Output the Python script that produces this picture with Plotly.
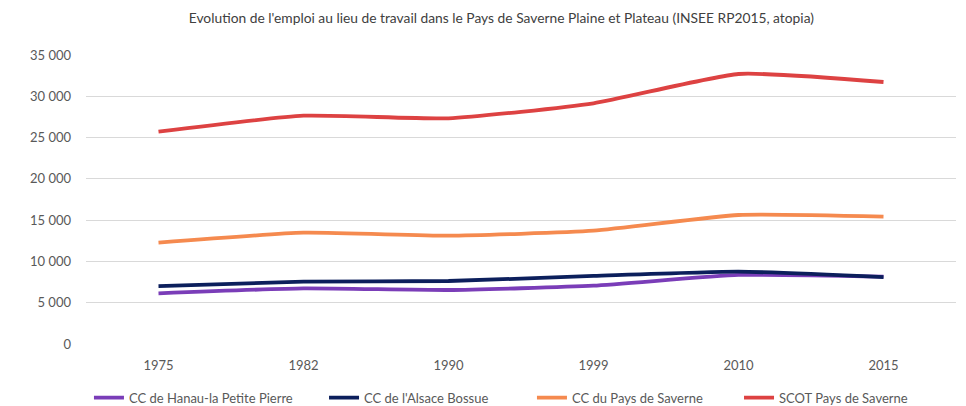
import plotly.graph_objects as go

years = ["1975", "1982", "1990", "1999", "2010", "2015"]
hanau = [6140, 6740, 6540, 7060, 8360, 8150]
alsace_bossue = [7020, 7550, 7630, 8240, 8760, 8110]
pays_saverne = [12270, 13480, 13120, 13720, 15620, 15420]
scot = [25710, 27650, 27330, 29150, 32700, 31730]

names = ["CC de Hanau-la Petite Pierre", "CC de l'Alsace Bossue",
         "CC du Pays de Saverne", "SCOT Pays de Saverne"]
colors = ["#7A3DB8", "#0C1F5C", "#F58A4F", "#DD4242"]
series = [hanau, alsace_bossue, pays_saverne, scot]
legend_ids = ["legend", "legend2", "legend3", "legend4"]
legend_x = [0.0034, 0.2736, 0.5126, 0.7506]

FONT = "Lato, Open Sans, sans-serif"

fig = go.Figure()
for n, c, s, lid in zip(names, colors, series, legend_ids):
    fig.add_trace(go.Scatter(x=years, y=s, name=n, mode="lines", legend=lid,
                             line=dict(color=c, width=3.8, shape="spline", smoothing=0.5)))

legend_style = dict(orientation="h", xanchor="left", y=-0.134, yanchor="top",
                    font=dict(family=FONT, size=13, color="#595959"), itemwidth=30,
                    bgcolor="rgba(0,0,0,0)")

layout_legends = {}
for lid, lx in zip(legend_ids, legend_x):
    layout_legends[lid] = dict(legend_style, x=lx)

fig.update_layout(
    width=958, height=398,
    margin=dict(l=78, r=10, t=47, b=62, autoexpand=False),
    paper_bgcolor="white", plot_bgcolor="white",
    separators=", ",
    font=dict(family=FONT, size=13, color="#595959"),
    title=dict(text="Evolution de l'emploi au lieu de travail dans le Pays de Saverne Plaine et Plateau (INSEE RP2015, atopia)",
               x=0.515, xanchor="center", y=0.975, yanchor="middle",
               font=dict(family=FONT, size=13.8, color="#404040")),
    xaxis=dict(type="category", range=[-0.5, 5.5], showgrid=False, showline=False, zeroline=False,
               ticks="", tickfont=dict(size=13, color="#595959"), ticklabelstandoff=12),
    yaxis=dict(range=[0, 35000], dtick=5000, tickformat=",d", showgrid=True,
               gridcolor="#D9D9D9", gridwidth=1, zeroline=False, showline=False,
               ticks="", tickfont=dict(size=13, color="#595959"), ticklabelstandoff=14),
    showlegend=True,
    **layout_legends,
)

fig.write_html("out.html")
